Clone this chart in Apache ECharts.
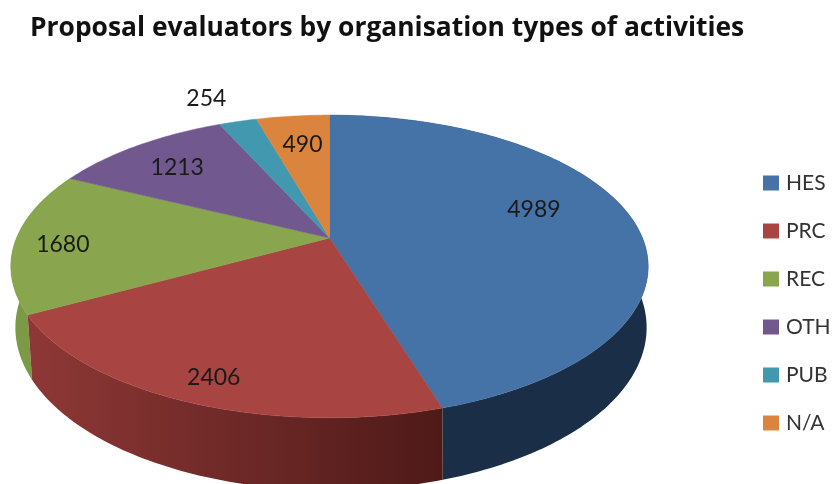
<!DOCTYPE html>
<html>
<head>
<meta charset="utf-8">
<style>html,body{margin:0;padding:0;background:#fff}#c{width:832px;height:484px;filter:blur(0.45px)}</style>
<script src="https://cdn.jsdelivr.net/npm/echarts@6/dist/echarts.min.js"></script>
</head>
<body>
<div id="c"></div>
<script>
const titleText = 'Proposal evaluators by organisation types of activities';
const categories = ['HES', 'PRC', 'REC', 'OTH', 'PUB', 'N/A'];
const values = [4989, 2406, 1680, 1213, 254, 490];
const topColors = ['#4572a7', '#a84442', '#89a54e', '#71588f', '#4198af', '#db843d'];

// Perspective projection of the pie disc
const TOP = { cx: 329.5, cy: 238, a: 313, b: 146, k: 0.188 };
const BOTTOM = { cx: 331, cy: 297, a: 310, b: 157, k: 0.188 };
const labelOffsets = [[-8, -13], [-22, 32], [-47, 4], [-13, -3], [-56, -54], [0, -4]];
const wallFills = [
  '#1b2e48',
  { type: 'linear', x: 0, y: 0, x2: 1, y2: 0, colorStops: [
    { offset: 0, color: '#8e3836' }, { offset: 1, color: '#4e1a18' }] },
  '#7c9945'
];
const wallOrder = [2, 2, 1];

const total = values.reduce((s, v) => s + v, 0);
const startOf = i => values.slice(0, i).reduce((s, v) => s + v, 0) / total * 360;

function project(deg, r, m) {
  const t = deg * Math.PI / 180;
  const x = r * Math.sin(t), z = r * Math.cos(t), d = 1 + m.k * z;
  return [m.cx + m.a * x / d, m.cy - m.b * z / d];
}
function arc(a0, a1, m) {
  const pts = [], n = Math.max(2, Math.ceil(Math.abs(a1 - a0)));
  for (let j = 0; j <= n; j++) pts.push(project(a0 + (a1 - a0) * j / n, 1, m));
  return pts;
}
function renderSlice(i) {
  return function () {
    const a0 = startOf(i), a1 = startOf(i + 1), mid = (a0 + a1) / 2;
    const children = [];
    if (wallFills[i]) {
      children.push({
        type: 'polygon', z2: wallOrder[i],
        shape: { points: arc(a0, a1, TOP).concat(arc(a0, a1, BOTTOM).reverse()) },
        style: { fill: wallFills[i] }
      });
    }
    children.push({
      type: 'polygon', z2: 5,
      shape: { points: [[TOP.cx, TOP.cy]].concat(arc(a0, a1, TOP)) },
      style: { fill: topColors[i], stroke: topColors[i], lineWidth: 0.5 }
    });
    const p = project(mid, 0.7, TOP);
    children.push({
      type: 'text', z2: 10,
      x: p[0] + labelOffsets[i][0], y: p[1] + labelOffsets[i][1],
      style: { text: String(values[i]), font: '23px Lato', fill: '#1a1a1a', align: 'center', verticalAlign: 'middle' }
    });
    return { type: 'group', children };
  };
}

const chart = echarts.init(document.getElementById('c'), null, { renderer: 'canvas' });
chart.setOption({
  animation: false,
  backgroundColor: '#fff',
  title: {
    text: titleText, left: 30, top: 15, padding: 0,
    textStyle: { fontFamily: 'Open Sans', fontWeight: 'bold', fontSize: 26.4, color: '#111' }
  },
  legend: {
    data: categories, orient: 'vertical', left: 763, top: 172, padding: 0,
    icon: 'rect', itemWidth: 16, itemHeight: 15, itemGap: 26, selectedMode: false,
    textStyle: { fontFamily: 'Lato', fontSize: 21, color: '#333', lineHeight: 22, padding: [0, 0, 0, 2] }
  },
  series: categories.map((name, i) => ({
    type: 'custom', name, coordinateSystem: 'none',
    itemStyle: { color: topColors[i] },
    data: [values[i]],
    renderItem: renderSlice(i)
  }))
});
</script>
</body>
</html>
